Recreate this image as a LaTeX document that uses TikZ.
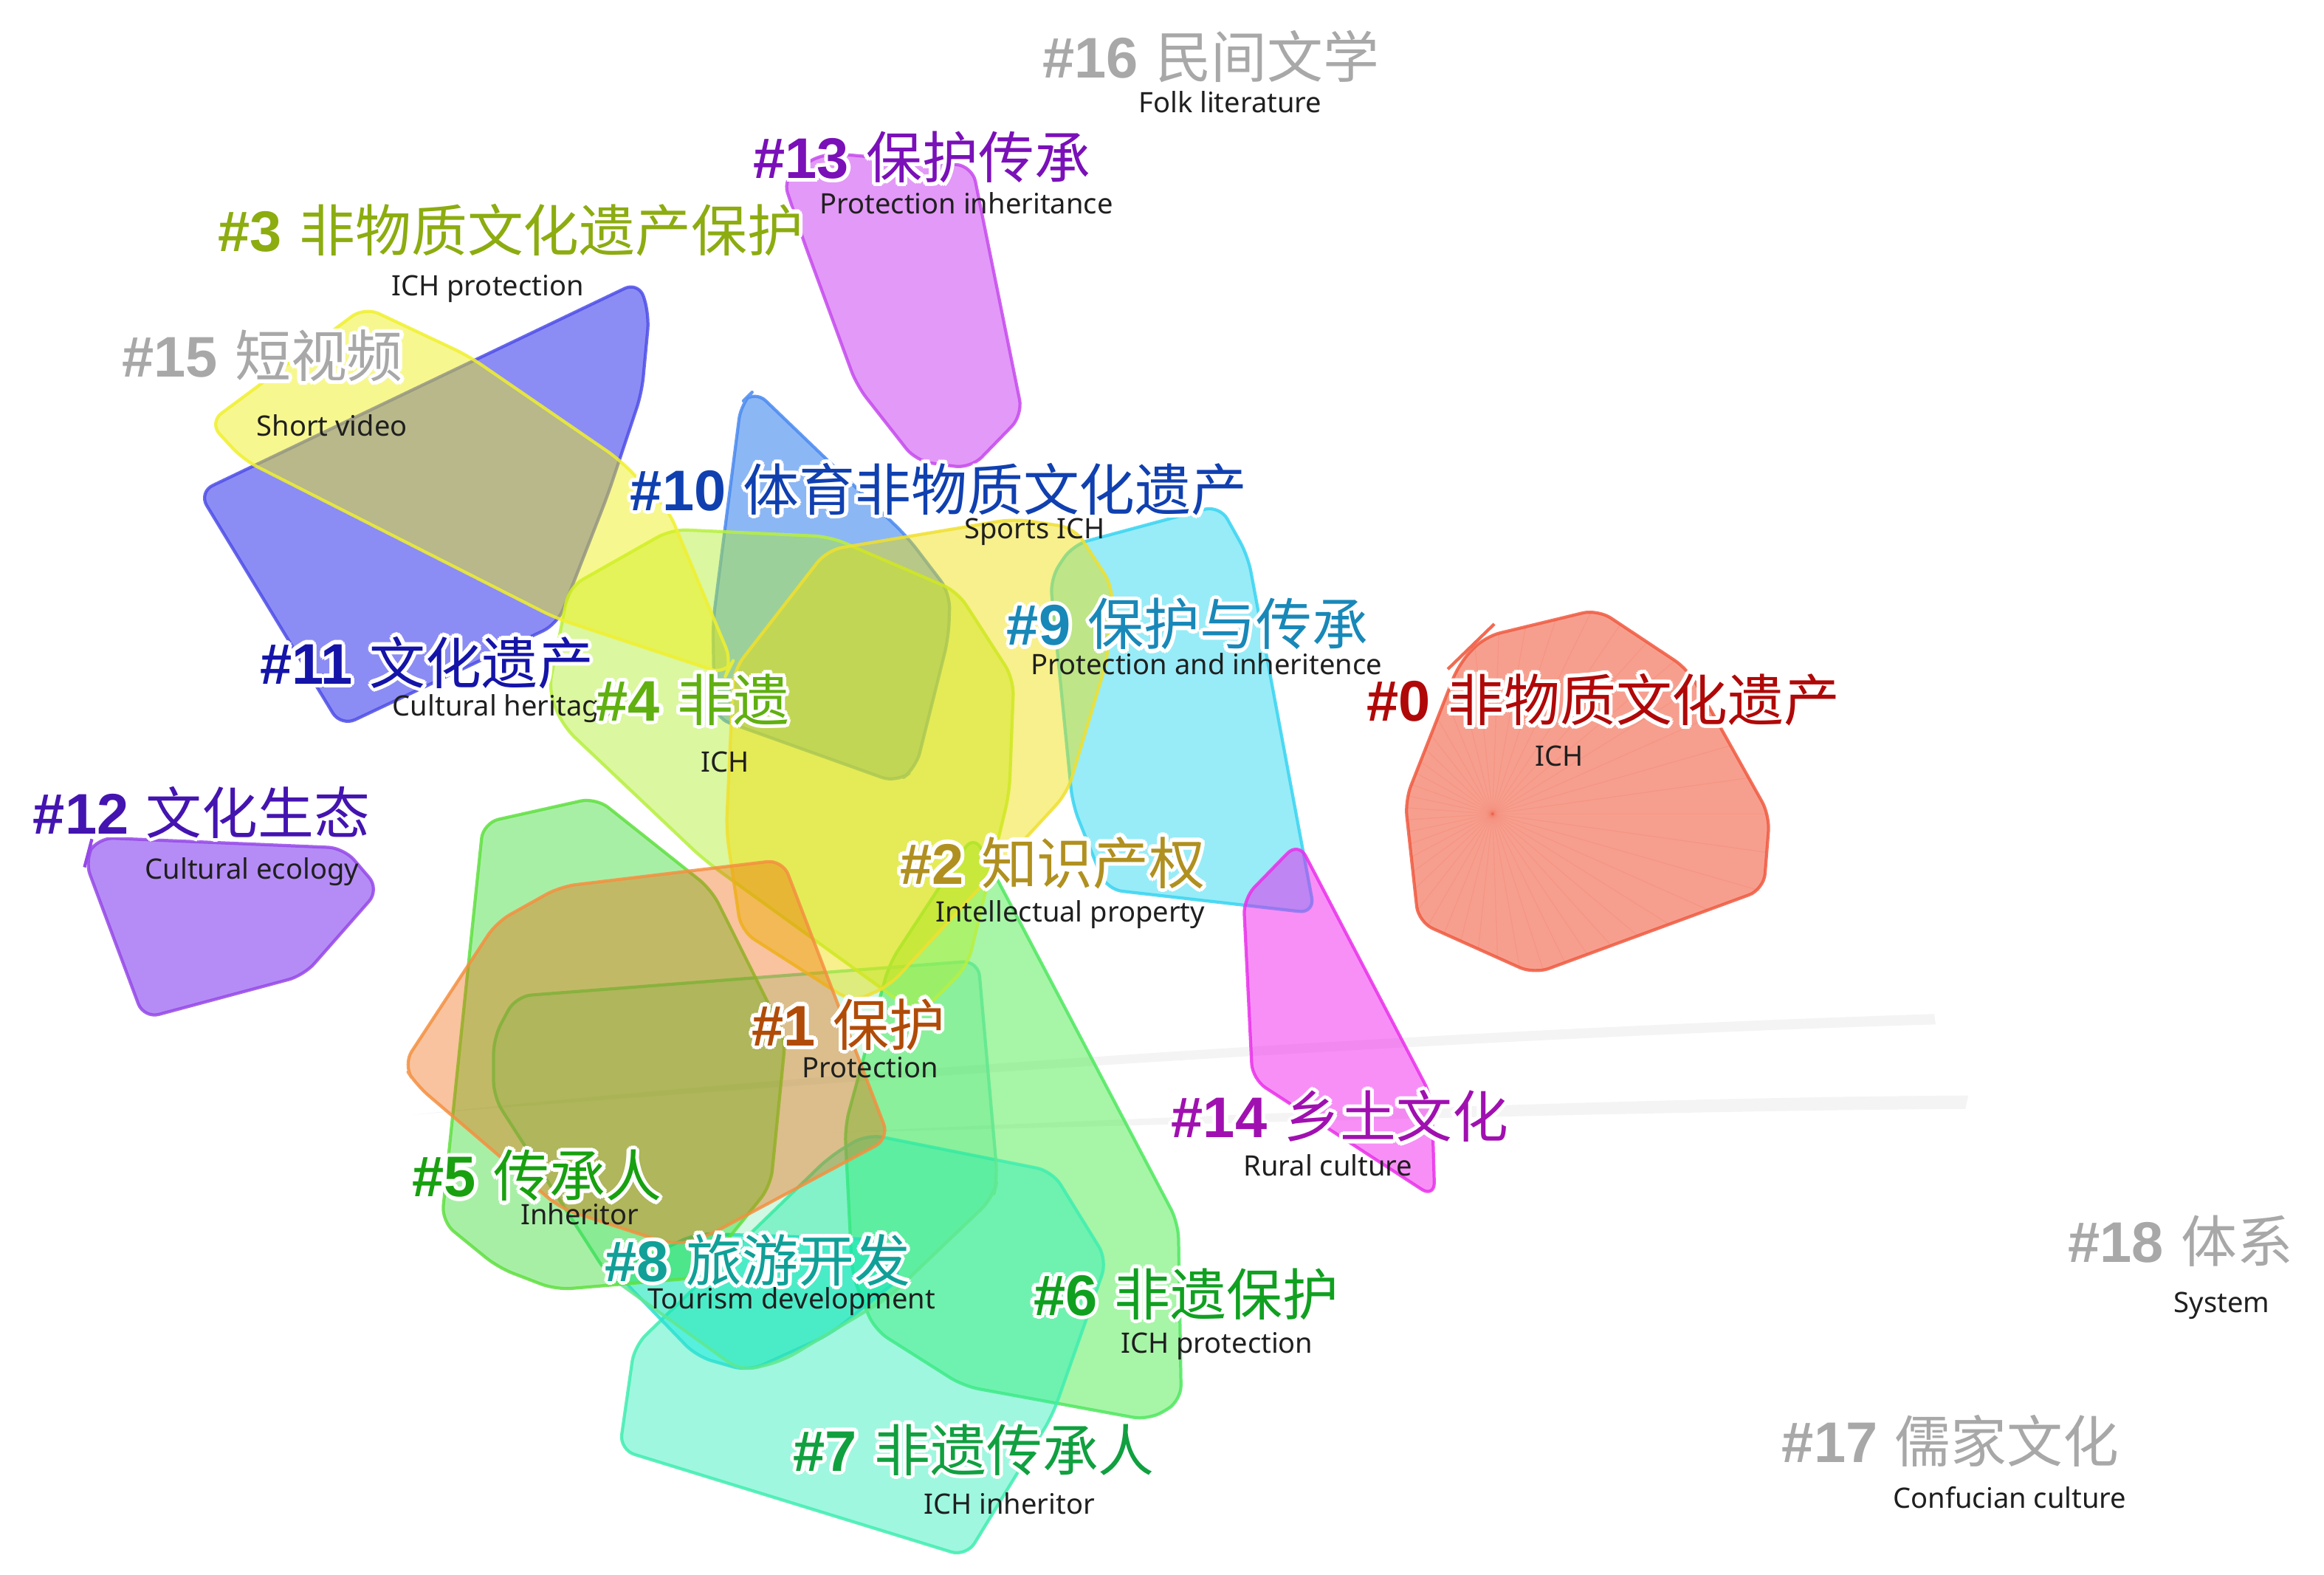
\documentclass[tikz,border=0pt]{standalone}
\usepackage{fontspec}
\newfontfamily\cjk{Noto Sans CJK SC}
\newfontfamily\numf{Liberation Sans}
\newfontfamily\enf{Noto Sans}
\definecolor{f0}{HTML}{EF2C08}\definecolor{d0}{HTML}{F05A40}
\definecolor{f1}{HTML}{ED6200}\definecolor{d1}{HTML}{F59040}
\definecolor{f2}{HTML}{EFDE00}\definecolor{d2}{HTML}{F0E030}
\definecolor{f3}{HTML}{EFEF08}\definecolor{d3}{HTML}{F0F030}
\definecolor{f4}{HTML}{B1EF2C}\definecolor{d4}{HTML}{B8F040}
\definecolor{f5}{HTML}{06D400}\definecolor{d5}{HTML}{60E040}
\definecolor{f6}{HTML}{3EE93E}\definecolor{d6}{HTML}{50E860}
\definecolor{f7}{HTML}{2CEFBA}\definecolor{d7}{HTML}{40EEB0}
\definecolor{f8}{HTML}{00E9DE}\definecolor{d8}{HTML}{30E0D0}
\definecolor{fm}{HTML}{16DE6E}\definecolor{dm}{HTML}{60E890}
\definecolor{f9}{HTML}{1AD5EF}\definecolor{d9}{HTML}{38D4F2}
\definecolor{f10}{HTML}{0061E9}\definecolor{d10}{HTML}{4A8AF0}
\definecolor{f11}{HTML}{0000E9}\definecolor{d11}{HTML}{4E4EE8}
\definecolor{f12}{HTML}{5B00E9}\definecolor{d12}{HTML}{9648E8}
\definecolor{f13}{HTML}{C11FEF}\definecolor{d13}{HTML}{C64AEE}
\definecolor{f14}{HTML}{EF08EF}\definecolor{d14}{HTML}{EA30EA}
\definecolor{t0}{HTML}{B00808}\definecolor{t1}{HTML}{B04C08}
\definecolor{t2}{HTML}{B09020}\definecolor{t3}{HTML}{8CAC10}
\definecolor{t4}{HTML}{60B010}\definecolor{t5}{HTML}{18A010}
\definecolor{t6}{HTML}{10A020}\definecolor{t7}{HTML}{10A040}
\definecolor{t8}{HTML}{10A098}\definecolor{t9}{HTML}{1888B8}
\definecolor{t10}{HTML}{1040B0}\definecolor{t11}{HTML}{1414A8}
\definecolor{t12}{HTML}{4414B0}\definecolor{t13}{HTML}{7A10B8}
\definecolor{t14}{HTML}{A010B0}\definecolor{tg}{HTML}{A8A8A8}
\definecolor{wmark}{HTML}{F4F4F4}
\tikzset{
  poly/.style={line width=1.2pt, rounded corners=6pt, fill opacity=0.45, draw opacity=0.85, line join=round},
  cl0/.style={poly, fill=f0, draw=d0},
  cl1/.style={poly, fill=f1, draw=d1, fill opacity=0.38},
  cl2/.style={poly, fill=f2, draw=d2},
  cl3/.style={poly, fill=f3, draw=d3},
  cl4/.style={poly, fill=f4, draw=d4},
  cl5/.style={poly, fill=f5, draw=d5, fill opacity=0.35},
  cl6/.style={poly, fill=f6, draw=d6},
  cl7/.style={poly, fill=f7, draw=d7},
  cl8/.style={poly, fill=f8, draw=d8},
  clm/.style={poly, fill=fm, draw=dm, fill opacity=0.2},
  cl9/.style={poly, fill=f9, draw=d9},
  cl10/.style={poly, fill=f10, draw=d10},
  cl11/.style={poly, fill=f11, draw=d11},
  cl12/.style={poly, fill=f12, draw=d12},
  cl13/.style={poly, fill=f13, draw=d13},
  cl14/.style={poly, fill=f14, draw=d14},
  lbl/.style={anchor=west, inner sep=0pt, font=\fontsize{22}{24}\selectfont},
  enl/.style={inner sep=0pt, font=\enf\fontsize{10.8}{12}\selectfont, text=black!88},
  wm/.style={fill=wmark},
}
\newcommand\clab[5]{%
  \foreach \a in {0,30,...,330}{\node[lbl,text=white,shift={(\a:1.5pt)},name=#1h\a] at #2 {{\numf\bfseries #4} {\cjk\fontsize{21.5}{24}\selectfont #5}};}
  \node[lbl,text=#3] (#1) at #2 {{\numf\bfseries #4} {\cjk\fontsize{21.5}{24}\selectfont #5}};}
\newcommand\pzero{(1001.6,429.5) -- (1078,411) -- (1138.8,451.4) -- (1194,550) -- (1190,600) -- (1035,657) -- (957,622) -- (948,540) -- (984.4,447.6) -- cycle}
\begin{document}
\begin{tikzpicture}[x=0.02cm,y=-0.02cm]
\fill[white] (0,0) rectangle (1568,1062);
\useasboundingbox (0,0) rectangle (1568,1062);
% watermark swoosh
\fill[wm] (278,752) .. controls (600,718) and (1000,694) .. (1305,684) -- (1306,691) .. controls (1000,700) and (600,726) .. (278,752) -- cycle;
\fill[wm] (560,764) .. controls (900,748) and (1150,740) .. (1328,739) -- (1326,748) .. controls (1150,749) and (900,756) .. (560,764) -- cycle;
% #11
\path[cl11] (134,332) -- (431,190) -- (438,212) -- (433,265) -- (410,334) -- (376,421) -- (230,490) -- cycle;
% #10
\path[cl10] (509,263) -- (612,362) -- (641,400) -- (640,430) -- (618,518) -- (605,528) -- (482,484) -- (481,420) -- (500,272) -- cycle;
% #6
\path[cl6] (657,563) -- (795,825) -- (797,945) -- (775,958) -- (650,935) -- (590,897) -- (575,860) -- (570,760) -- (600,650) -- cycle;
% #7
\path[cl7] (585,765) -- (710,790) -- (747,850) -- (710,955) -- (652,1050) -- (418,978) -- (428,908) -- (560,780) -- cycle;
% #8 (turquoise, lower part)
\path[cl8] (415,858) -- (470,832) -- (590,836) -- (610,860) -- (560,900) -- (505,925) -- (470,915) -- cycle;
% mint rounded polygon
\path[clm] (348,672) -- (660,648) -- (673,795) -- (670,808) -- (600,875) -- (528,918) -- (500,925) -- (410,860) -- (333,740) -- (333,700) -- cycle;
% #5
\path[cl5] (326,555) -- (402,538) -- (480,600) -- (530,700) -- (520,800) -- (470,862) -- (375,870) -- (336,855) -- (298,824) -- cycle;
% #9
\path[cl9] (708.5,390.4) -- (723.7,367.5) -- (822.9,340.8) -- (842,375) -- (887,616) -- (746.6,600) -- (723.7,542.9) -- cycle;
% #4
\path[cl4] (453,357) -- (560,362) -- (646,399) -- (684,458) -- (681,535) -- (653,651) -- (620,685) -- (475,580) -- (380,490) -- (370,466) -- (384,396) -- cycle;
% #2
\path[cl2] (558,371) -- (684,350) -- (725,356) -- (751,396) -- (747,445) -- (720,535) -- (600,665) -- (575,676) -- (500,628) -- (490,560) -- (495,452) -- cycle;
% #1
\path[cl1] (272,718) -- (335,622) -- (378,598) -- (528,580) -- (600,768) -- (475,835) -- (455,840) -- (378,815) -- (281,732) -- cycle;
% #3
\path[cl3] (246,207) -- (316,240) -- (418,310) -- (451,344) -- (494,447) -- (490,455) -- (375,417) -- (164,310) -- (141,285) -- cycle;
% #12
\path[cl12] (66,565) -- (232,572) -- (256,600) -- (205,658) -- (97,687) -- (57,580) -- cycle;
\coordinate (ga) at (57,585);
\coordinate (gb) at (62,566);
\draw[d12, line width=1.2pt] (ga) -- (gb);
% #13
\path[cl13] (528,120) -- (556,103) -- (656,112) -- (690,280) -- (655,316) -- (618,311) -- (578,260) -- (542,162) -- cycle;
% #14
\path[cl14] (876,568) -- (966,740) -- (968,808) -- (845,728) -- (839,606) -- cycle;
% #0
\path[cl0] \pzero;
\begin{scope}
\clip \pzero;
\coordinate (hub) at (1007,549);
\foreach \a in {0,8,...,352}{\draw[d0, opacity=0.12, line width=0.4pt] (hub) -- ++(\a:300);}
\end{scope}
\coordinate (fa) at (976.8,451.4);
\coordinate (fb) at (1008.2,420.9);
\draw[d0, line width=1.2pt, opacity=0.9] (fa) -- (fb);
% labels
\clab{l16}{(703,38)}{tg}{\#16}{民间文学}
\node[enl] (e16) at (830,69) {Folk literature};
\clab{l13}{(508,106)}{t13}{\#13}{保护传承}
\node[enl] (e13) at (652,137) {Protection inheritance};
\clab{l3}{(147,155)}{t3}{\#3}{非物质文化遗产保护}
\node[enl] (e3) at (329,195) {ICH protection};
\clab{l15}{(82,240)}{tg}{\#15}{短视频}
\node[enl] (e15) at (224,287) {Short video};
\clab{l10}{(425,330)}{t10}{\#10}{体育非物质文化遗产}
\node[enl] (e10) at (698,359) {Sports ICH};
\clab{l9}{(679,421)}{t9}{\#9}{保护与传承}
\node[enl] (e9) at (814,448) {Protection and inheritence};
\clab{l0}{(922,472)}{t0}{\#0}{非物质文化遗产}
\node[enl] (e0) at (1052,510) {ICH};
\clab{l11}{(175,447)}{t11}{\#11}{文化遗产}
\node[enl] (e11) at (340,478) {Cultural heritage};
\clab{l4}{(402,472)}{t4}{\#4}{非遗}
\node[enl] (e4) at (489,514) {ICH};
\clab{l12}{(22,548)}{t12}{\#12}{文化生态}
\node[enl] (e12) at (170,588) {Cultural ecology};
\clab{l2}{(607,582)}{t2}{\#2}{知识产权}
\node[enl] (e2) at (722,617) {Intellectual property};
\clab{l1}{(507,691)}{t1}{\#1}{保护}
\node[enl] (e1) at (587,720) {Protection};
\clab{l14}{(790,753)}{t14}{\#14}{乡土文化}
\node[enl] (e14) at (896,786) {Rural culture};
\clab{l5}{(278,793)}{t5}{\#5}{传承人}
\node[enl] (e5) at (391,819) {Inheritor};
\clab{l8}{(408,850)}{t8}{\#8}{旅游开发}
\node[enl] (e8) at (534,878) {Tourism development};
\clab{l6}{(697,873)}{t6}{\#6}{非遗保护}
\node[enl] (e6) at (821,908) {ICH protection};
\clab{l7}{(535,978)}{t7}{\#7}{非遗传承人}
\node[enl] (e7) at (681,1014) {ICH inheritor};
\clab{l18}{(1395,837)}{tg}{\#18}{体系}
\node[enl] (e18) at (1499,881) {System};
\clab{l17}{(1202,972)}{tg}{\#17}{儒家文化}
\node[enl] (e17) at (1356,1010) {Confucian culture};
\end{tikzpicture}
\end{document}
